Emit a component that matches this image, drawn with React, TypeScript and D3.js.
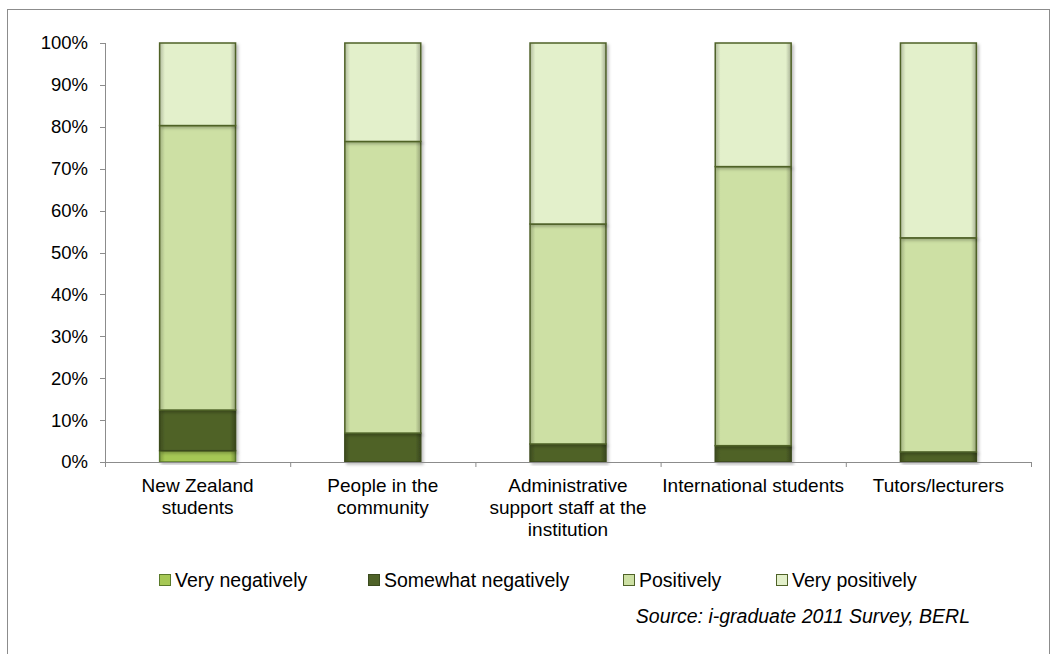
import React from "react";
import * as d3 from "d3";

const categories = [
  ["New Zealand", "students"],
  ["People in the", "community"],
  ["Administrative", "support staff at the", "institution"],
  ["International students"],
  ["Tutors/lecturers"],
];
const seriesNames = ["Very negatively", "Somewhat negatively", "Positively", "Very positively"];
const veryNegatively = [2.7, 0, 0, 0, 0];
const somewhatNegatively = [9.7, 6.9, 4.3, 3.9, 2.4];
const positively = [67.9, 69.6, 52.5, 66.6, 51.1];
const veryPositively = [19.7, 23.5, 43.2, 29.5, 46.5];
const yTicks = [0, 10, 20, 30, 40, 50, 60, 70, 80, 90, 100];

const colors = ["#a6c855", "#4f6228", "#cde0a4", "#e3f0cb"];
const edge = ["#5a7a2a", "#3b4a1e", "#4f6228", "#4f6228"];

export default function App() {
  const W = 1052, H = 654;
  const left = 105, right = 1031, top = 43, bottom = 462;
  const x = d3.scaleBand<number>().domain(d3.range(categories.length)).range([left, right]).paddingInner(0.59).paddingOuter(0.295);
  const y = d3.scaleLinear().domain([0, 100]).range([bottom, top]);
  const data = categories.map((_, i) => ({
    i,
    v0: veryNegatively[i], v1: somewhatNegatively[i], v2: positively[i], v3: veryPositively[i],
  }));
  const stack = d3.stack<any>().keys(["v0", "v1", "v2", "v3"])(data);
  const step = (right - left) / categories.length;
  const font = "Liberation Sans, Arial, sans-serif";
  const legendSq = [159, 368, 623, 776];

  return (
    <svg width={W} height={H} style={{ position: "absolute", left: 0, top: 0, background: "#fff" }} fontFamily={font}>
      <defs>
        {colors.map((c, k) => (
          <linearGradient key={k} id={`g${k}`} x1="0" x2="1" y1="0" y2="0">
            <stop offset="0" stopColor={d3.color(c)!.darker(0.7).toString()} />
            <stop offset="0.07" stopColor={c} />
            <stop offset="0.93" stopColor={c} />
            <stop offset="1" stopColor={d3.color(c)!.darker(0.9).toString()} />
          </linearGradient>
        ))}
        <filter id="sh" x="-10%" y="-10%" width="130%" height="130%">
          <feDropShadow dx="2" dy="2" stdDeviation="1.5" floodColor="#000" floodOpacity="0.25" />
        </filter>
      </defs>
      <rect x={7.5} y={9.5} width={1042} height={680} fill="none" stroke="#8c8c8c" strokeWidth={1} />
      <line x1={left + 0.5} x2={left + 0.5} y1={top} y2={bottom} stroke="#8c8c8c" />
      {yTicks.map((t) => (
        <g key={t}>
          <line x1={left - 5} x2={left} y1={Math.round(y(t)) + 0.5} y2={Math.round(y(t)) + 0.5} stroke="#8c8c8c" />
          <text x={88} y={y(t)} dy="0.35em" textAnchor="end" fontSize={18.5} fill="#000">{t}%</text>
        </g>
      ))}
      {stack.map((s, k) => (
        <g key={k}>
          {s.map((d, i) => {
            const h = y(d[0]) - y(d[1]);
            if (h <= 0) return null;
            return (
              <rect key={i} x={x(i)!} y={y(d[1])} width={x.bandwidth()} height={h}
                fill={`url(#g${k})`} stroke={edge[k]} strokeWidth={1.5} filter="url(#sh)" />
            );
          })}
        </g>
      ))}
      <line x1={left} x2={right} y1={bottom + 0.5} y2={bottom + 0.5} stroke="#8c8c8c" />
      {d3.range(categories.length + 1).map((j) => (
        <line key={j} x1={left + j * step + 0.5} x2={left + j * step + 0.5} y1={bottom} y2={bottom + 5} stroke="#8c8c8c" />
      ))}
      {categories.map((lines, i) => (
        <text key={i} x={x(i)! + x.bandwidth() / 2} y={492} textAnchor="middle" fontSize={19} fill="#000">
          {lines.map((l, j) => (
            <tspan key={j} x={x(i)! + x.bandwidth() / 2} dy={j === 0 ? 0 : 22}>{l}</tspan>
          ))}
        </text>
      ))}
      {seriesNames.map((n, k) => (
        <g key={k}>
          <rect x={legendSq[k] + 0.5} y={574.5} width={11} height={11} fill={colors[k]} stroke={edge[k]} strokeWidth={1} />
          <text x={legendSq[k] + 16} y={587} fontSize={19.5} fill="#000">{n}</text>
        </g>
      ))}
      <text x={970} y={623} textAnchor="end" fontSize={19.5} fontStyle="italic" fill="#000">
        Source: i-graduate 2011 Survey, BERL
      </text>
    </svg>
  );
}
